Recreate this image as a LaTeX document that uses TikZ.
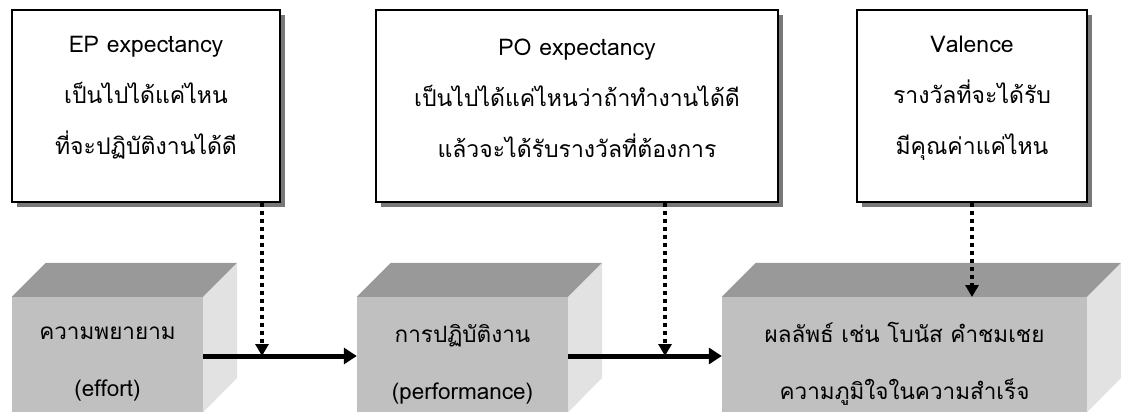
\documentclass[tikz,border=0pt]{standalone}
\usepackage{fontspec}
\setmainfont[Script=Thai]{Loma}
\usetikzlibrary{arrows.meta,shadows,calc}
\definecolor{topgray}{RGB}{153,153,153}
\definecolor{frontgray}{RGB}{192,192,192}
\definecolor{sidegray}{RGB}{226,226,226}
\definecolor{shadowgray}{RGB}{120,120,120}
\begin{document}
\begin{tikzpicture}[x=1pt,y=-1pt,
  box/.style={draw=black, line width=1.4pt, fill=white, inner sep=0pt,
    drop shadow={shadow xshift=5pt, shadow yshift=-5pt, fill=shadowgray, opacity=1}},
  boxtext/.style={align=center, inner sep=0pt, font=\fontsize{23}{51}\selectfont},
  front/.style={fill=frontgray, inner sep=0pt, minimum height=115pt},
  cubetext/.style={align=center, inner sep=0pt, font=\fontsize{22.5}{57}\selectfont},
  mainarrow/.style={line width=5pt, -{Triangle[length=13pt,width=16pt]}},
  dotarrow/.style={line width=4.5pt, dash pattern=on 4pt off 4pt, -{Triangle[length=12pt,width=13pt]}}
]
\useasboundingbox (0,0) rectangle (1121,412);
% top boxes
\node[box, minimum width=268pt, minimum height=192pt] (b1) at (146,106) {};
\node[box, minimum width=402pt, minimum height=192pt] (b2) at (577,106) {};
\node[box, minimum width=230pt, minimum height=192pt] (b3) at (972,106) {};
\node[boxtext] (t1) at (146,98) {EP expectancy\\เป็นไปได้แค่ไหน\\ที่จะปฏิบัติงานได้ดี};
\node[boxtext] (t2) at (577,98) {PO expectancy\\เป็นไปได้แค่ไหนว่าถ้าทำงานได้ดี\\แล้วจะได้รับรางวัลที่ต้องการ};
\node[boxtext] (t3) at (972,98) {Valence\\รางวัลที่จะได้รับ\\มีคุณค่าแค่ไหน};
% cubes
\node[front, minimum width=191pt] (c1) at (107.5,354.5) {};
\node[front, minimum width=211pt] (c2) at (462.5,354.5) {};
\node[front, minimum width=365pt] (c3) at (904.5,354.5) {};
\foreach \c in {c1,c2,c3}{
  \fill[topgray] (\c.north west) -- ++(34,-34) -- ($(\c.north east)+(34,-34)$) -- (\c.north east) -- cycle;
  \fill[sidegray] (\c.north east) -- ++(34,-34) -- ++(0,115) -- (\c.south east) -- cycle;
}
\node[cubetext] (ct1) at (107.5,364) {ความพยายาม\\(effort)};
\node[cubetext] (ct2) at (462.5,364) {การปฏิบัติงาน\\(performance)};
\node[cubetext] (ct3) at (904.5,364) {ผลลัพธ์ เช่น โบนัส คำชมเชย\\ความภูมิใจในความสำเร็จ};
% connectors
\draw[mainarrow] (c1.east |- 0,356) -- (c2.west |- 0,356);
\draw[mainarrow] (c2.east |- 0,356) -- (c3.west |- 0,356);
\coordinate (m1) at (262,356);
\coordinate (m2) at (665,356);
\coordinate (m3) at (972,297);
\draw[dotarrow] (b1.south -| m1) -- (m1);
\draw[dotarrow] (b2.south -| m2) -- (m2);
\draw[dotarrow] (b3.south -| m3) -- (m3);
\end{tikzpicture}
\end{document}
